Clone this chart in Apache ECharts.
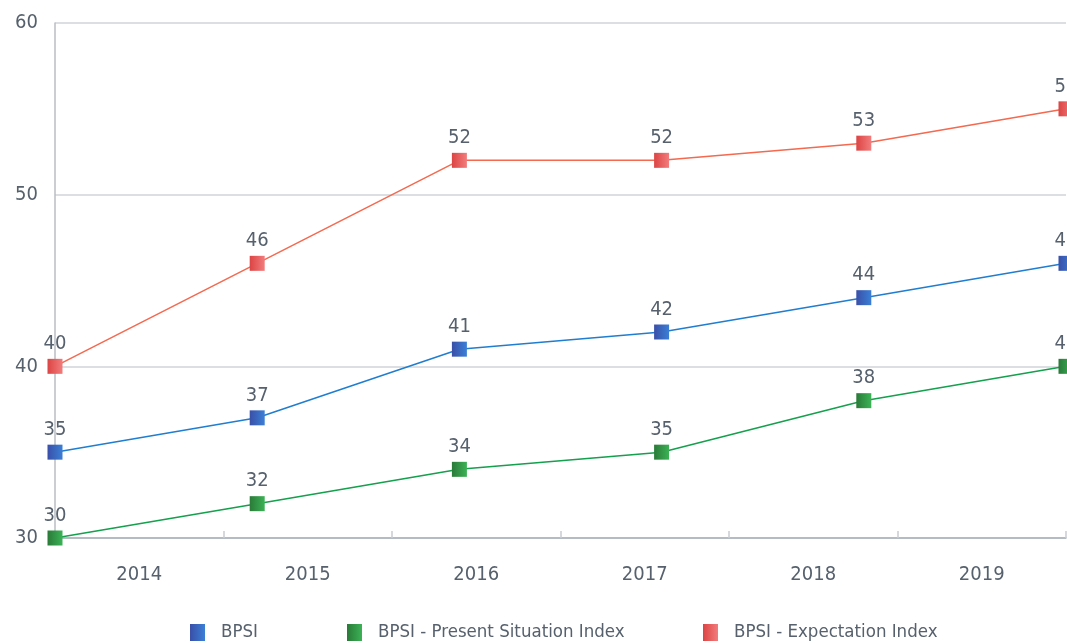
<!DOCTYPE html>
<html>
<head>
<meta charset="utf-8">
<script src="https://cdn.jsdelivr.net/npm/echarts@6/dist/echarts.min.js"></script>
<style>
  html, body { margin: 0; padding: 0; background: #fff; }
  #chart { width: 1067px; height: 643px; }
</style>
</head>
<body>
<div id="chart"></div>
<script>
var years = ['2014', '2015', '2016', '2017', '2018', '2019'];
var bpsi = [35, 37, 41, 42, 44, 46];
var presentIndex = [30, 32, 34, 35, 38, 40];
var expectationIndex = [40, 46, 52, 52, 53, 55];
var yTicks = [30, 40, 50, 60];
var seriesNames = ['BPSI', 'BPSI - Present Situation Index', 'BPSI - Expectation Index'];

var font = '"DejaVu Sans Condensed", Roboto, sans-serif';
var textColor = '#56616d';

function grad(c1, c2) {
    return new echarts.graphic.LinearGradient(0, 0, 1, 0, [
        { offset: 0, color: c1 },
        { offset: 1, color: c2 }
    ]);
}

function lineSeries(name, data, lineColor, c1, c2) {
    return {
        name: name,
        type: 'line',
        xAxisIndex: 1,
        data: data,
        symbol: 'rect',
        symbolSize: 15,
        showAllSymbol: true,
        itemStyle: { color: grad(c1, c2) },
        lineStyle: { color: lineColor, width: 1.5 },
        label: {
            show: true,
            position: 'top',
            distance: 5,
            color: textColor,
            fontSize: 20,
            fontFamily: font
        },
        animation: false
    };
}

// one legend per item so each one sits where the original puts it
function legendAt(left, name) {
    return {
        top: 618,
        left: left,
        icon: 'rect',
        itemWidth: 15,
        itemHeight: 17,
        textStyle: { color: textColor, fontSize: 18.5, fontFamily: font, padding: [0, 0, 0, 11] },
        data: [name]
    };
}

var myChart = echarts.init(document.getElementById('chart'), null, { renderer: 'canvas' });
var option = {
    backgroundColor: '#ffffff',
    grid: { left: 55, right: 1, top: 23, bottom: 105 },
    legend: [
        legendAt(185, seriesNames[0]),
        legendAt(342, seriesNames[1]),
        legendAt(698, seriesNames[2])
    ],
    xAxis: [
        {
            type: 'category',
            data: years,
            boundaryGap: true,
            axisLine: { lineStyle: { color: '#a9b0b8', width: 1.5 } },
            axisTick: { show: true, inside: true, length: 7, lineStyle: { color: '#c8cdd2', width: 1.5 } },
            axisLabel: { color: textColor, fontSize: 20, fontFamily: font, margin: 27 },
            splitLine: { show: false }
        },
        {
            type: 'category',
            data: years,
            boundaryGap: false,
            show: false
        }
    ],
    yAxis: {
        type: 'value',
        min: yTicks[0],
        max: yTicks[yTicks.length - 1],
        interval: 10,
        axisLine: { show: true, lineStyle: { color: '#b8bec5', width: 1.5 } },
        axisTick: { show: false },
        axisLabel: { color: textColor, fontSize: 20, fontFamily: font, margin: 17 },
        splitLine: { lineStyle: { color: '#cfd4d9', width: 1.5 } }
    },
    series: [
        lineSeries(seriesNames[0], bpsi, '#1f7ed0', '#3a4fa8', '#3b7fd6'),
        lineSeries(seriesNames[1], presentIndex, '#14a04c', '#2a7a38', '#3bb256'),
        lineSeries(seriesNames[2], expectationIndex, '#f4694f', '#dc4444', '#f27c7c')
    ]
};
myChart.setOption(option);
</script>
</body>
</html>
